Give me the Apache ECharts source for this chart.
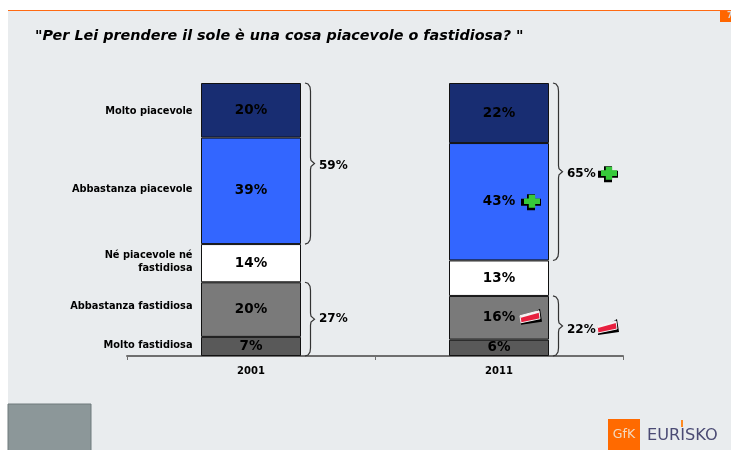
<!DOCTYPE html>
<html>
<head>
<meta charset="utf-8">
<style>
  html, body { margin: 0; padding: 0; background: #fff; }
  #chart { width: 731px; height: 450px; }
</style>
<script src="https://cdn.jsdelivr.net/npm/echarts@6/dist/echarts.min.js"></script>
</head>
<body>
<div id="chart"></div>
<script>
const years = ["2001", "2011"];
const answers = ["Molto fastidiosa", "Abbastanza fastidiosa", "Né piacevole né\nfastidiosa", "Abbastanza piacevole", "Molto piacevole"];
const moltoFastidiosa = [7, 6];
const abbastanzaFastidiosa = [20, 16];
const neNe = [14, 13];
const abbastanzaPiacevole = [39, 43];
const moltoPiacevole = [20, 22];
const answerColors = ["#595959", "#7a7a7a", "#ffffff", "#3366ff", "#182d72"];
const answerLabelValues = [3.7, 18.3, 34.4, 60.9, 89.7];
// year index, bottom of the brace, top of the brace, total, trend, height of the total label
const braces = [
  [0, 41, 100, 59, "", 69.8],
  [0, 0, 27, 27, "", 13.6],
  [1, 35, 100, 65, "up", 66.7],
  [1, 0, 22, 22, "down", 9.5]
];
// year index, centre of the segment, trend
const segmentTrends = [
  [1, 56.5, "up"],
  [1, 14, "down"]
];
const titleText = "\"Per Lei prendere il sole è una cosa piacevole o fastidiosa? \"";

const font = "DejaVu Sans";
const stacks = [moltoFastidiosa, abbastanzaFastidiosa, neNe, abbastanzaPiacevole, moltoPiacevole];

const plusPts = (cx, cy, w, h) => {
  const a = w / 2, b = h / 2, c = w * 0.2, d = h * 0.22;
  return [[cx - c, cy - b], [cx + c, cy - b], [cx + c, cy - d], [cx + a, cy - d], [cx + a, cy + d], [cx + c, cy + d],
    [cx + c, cy + b], [cx - c, cy + b], [cx - c, cy + d], [cx - a, cy + d], [cx - a, cy - d], [cx - c, cy - d]];
};

function trendIcon(type, cx, cy) {
  if (type === "up") {
    return [
      { type: "polygon", shape: { points: plusPts(cx, cy + 0.5, 20, 16) }, style: { fill: "#000" } },
      { type: "polygon", shape: { points: plusPts(cx + 1, cy - 0.5, 16, 13) }, style: { fill: "#37c93a" } }
    ];
  }
  if (type === "down") {
    return [
      { type: "polygon", shape: { points: [[cx - 10, cy + 3], [cx + 9, cy - 9], [cx + 11, cy + 4], [cx - 10, cy + 7]] }, style: { fill: "#000" } },
      { type: "polygon", shape: { points: [[cx - 11, cy - 2], [cx + 8, cy - 7], [cx + 9, cy + 1], [cx - 10, cy + 5]] }, style: { fill: "#e8203f", stroke: "#f4f4f4", lineWidth: 1 } },
      { type: "polygon", shape: { points: [[cx - 11, cy - 2], [cx + 8, cy - 7], [cx + 8, cy - 5], [cx - 10, cy]] }, style: { fill: "#f4f4f4" } }
    ];
  }
  return [];
}

const chart = echarts.init(document.getElementById("chart"));

const barSeries = answers.map((name, i) => ({
  type: "bar",
  name,
  stack: "total",
  barWidth: 100,
  data: stacks[i],
  itemStyle: { color: answerColors[i], borderColor: "#111", borderWidth: 1 },
  label: {
    show: true,
    position: "inside",
    formatter: "{c}%",
    color: "#000",
    fontFamily: font,
    fontWeight: "bold",
    fontSize: 13.5
  }
}));

chart.setOption({
  animation: false,
  backgroundColor: "#ffffff",
  title: {
    text: titleText,
    left: 35,
    top: 29,
    padding: 0,
    textStyle: { fontFamily: font, fontStyle: "italic", fontWeight: "bold", fontSize: 14.35, color: "#000" }
  },
  grid: { left: 127, right: 108, top: 83, bottom: 94 },
  xAxis: {
    type: "category",
    data: years,
    axisLine: { lineStyle: { color: "#6e6e6e", width: 2 } },
    axisTick: { show: true, length: 4, lineStyle: { color: "#6e6e6e" } },
    axisLabel: { color: "#000", fontFamily: font, fontWeight: "bold", fontSize: 10, margin: 10 }
  },
  yAxis: { type: "value", min: 0, max: 100, show: false },
  series: [
    ...barSeries,
    {
      type: "custom",
      name: "answers",
      silent: true,
      z: 5,
      data: answers.map((a, i) => [0, answerLabelValues[i], a]),
      renderItem(params, api) {
        const p = api.coord([api.value(0), api.value(1)]);
        return {
          type: "text",
          style: {
            x: p[0] - 58.5,
            y: p[1],
            text: answers[params.dataIndex],
            align: "right",
            verticalAlign: "middle",
            fill: "#000",
            font: "bold 9.8px '" + font + "'",
            lineHeight: 13
          }
        };
      }
    },
    {
      type: "custom",
      name: "braces",
      silent: true,
      z: 5,
      data: braces,
      renderItem(params, api) {
        const brace = braces[params.dataIndex];
        const bottom = api.coord([brace[0], brace[1]]);
        const top = api.coord([brace[0], brace[2]]);
        const labelAt = api.coord([brace[0], brace[5]]);
        const x = top[0] + 54, y0 = top[1], y1 = bottom[1], mid = (y0 + y1) / 2;
        const points = [[x, y0], [x + 3, y0 + 1], [x + 5, y0 + 4], [x + 5.5, y0 + 8], [x + 5.5, mid - 6], [x + 6, mid - 3], [x + 9.5, mid],
          [x + 6, mid + 3], [x + 5.5, mid + 6], [x + 5.5, y1 - 8], [x + 5, y1 - 4], [x + 3, y1 - 1], [x, y1]];
        const children = [
          { type: "polyline", shape: { points }, style: { fill: "none", stroke: "#333", lineWidth: 1.2 } },
          {
            type: "text",
            style: {
              x: x + 14,
              y: labelAt[1],
              text: brace[3] + "%",
              verticalAlign: "middle",
              fill: "#000",
              font: "bold 12px '" + font + "'"
            }
          }
        ];
        return { type: "group", children: children.concat(trendIcon(brace[4], top[0] + 109, mid + 2)) };
      }
    },
    {
      type: "custom",
      name: "trends",
      silent: true,
      z: 5,
      data: segmentTrends,
      renderItem(params, api) {
        const item = segmentTrends[params.dataIndex];
        const p = api.coord([item[0], item[1]]);
        return { type: "group", children: trendIcon(item[2], p[0] + 32, p[1]) };
      }
    }
  ],
  graphic: [
    { type: "rect", z: -10, silent: true, shape: { x: 8, y: 11, width: 723, height: 439 }, style: { fill: "#e9ecee" } },
    { type: "rect", z: -9, silent: true, shape: { x: 8, y: 10, width: 723, height: 1 }, style: { fill: "#ff6a13" } },
    { type: "rect", z: -9, silent: true, shape: { x: 720, y: 11, width: 11, height: 11 }, style: { fill: "#ff6600" } },
    { type: "text", z: -8, silent: true, style: { x: 727, y: 12, text: "7", fill: "#d8d8d8", font: "bold 8px '" + font + "'" } },
    { type: "rect", z: -9, silent: true, shape: { x: 8, y: 404, width: 83, height: 48 }, style: { fill: "#8c9799", stroke: "#6f7a7c", lineWidth: 1 } },
    { type: "rect", z: -9, silent: true, shape: { x: 608, y: 419, width: 32, height: 31 }, style: { fill: "#ff6a00" } },
    { type: "text", z: -8, silent: true, style: { x: 624, y: 435, text: "GfK", align: "center", verticalAlign: "middle", fill: "#f3d9c0", font: "12.5px '" + font + "'" } },
    { type: "text", z: -8, silent: true, style: { x: 647, y: 436, text: "EURISKO", verticalAlign: "middle", fill: "#4b4b74", font: "16.2px '" + font + "'" } },
    { type: "rect", z: -7, silent: true, shape: { x: 681, y: 420, width: 2, height: 7 }, style: { fill: "#ff8a20" } }
  ]
});
</script>
</body>
</html>
